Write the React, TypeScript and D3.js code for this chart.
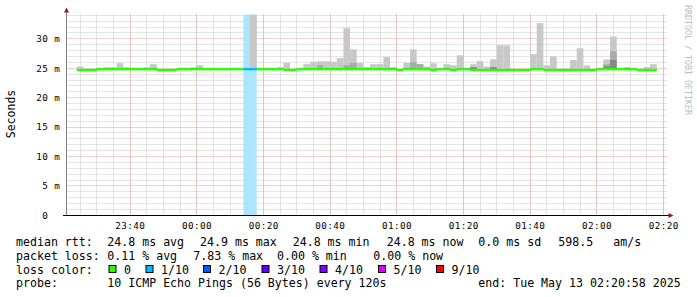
import React from 'react';
import * as d3 from 'd3';

const WIDTH = 697;
const HEIGHT = 297;

// time window of the graph
const startTime = new Date(Date.UTC(2025, 4, 12, 23, 20, 58));
const endTime = new Date(Date.UTC(2025, 4, 13, 2, 20, 58));
const firstBin = new Date(Date.UTC(2025, 4, 12, 23, 24, 0));
const stepMinutes = 2;

// median rtt (ms) per 2-minute step
const medianRtt = [
  24.7, 24.7, 24.7, 24.85, 24.85, 24.85, 24.85, 24.85, 24.85, 24.85,
  24.85, 24.85, 24.7, 24.7, 24.7, 24.85, 24.85, 24.85, 24.85, 24.85,
  24.85, 24.85, 24.85, 24.85, 24.85, 24.85, 24.85, 24.85, 24.85, 24.85,
  24.85, 24.7, 24.7, 24.85, 24.85, 24.85, 24.85, 24.85, 24.85, 24.85,
  24.85, 24.85, 24.85, 24.85, 24.85, 24.85, 24.85, 24.85, 24.7, 24.85,
  24.85, 24.85, 24.85, 24.7, 24.85, 24.85, 24.7, 24.85, 24.85, 24.7,
  24.7, 24.7, 24.7, 24.7, 24.7, 24.7, 24.7, 24.7, 24.85, 24.85,
  24.7, 24.7, 24.7, 24.7, 24.7, 24.7, 24.7, 24.7, 24.85, 24.85,
  24.85, 24.85, 24.85, 24.85, 24.7, 24.7, 24.7,
];

// lost pings (of 10) per step
const lossCount = [
  0, 0, 0, 0, 0, 0, 0, 0, 0, 0,
  0, 0, 0, 0, 0, 0, 0, 0, 0, 0,
  0, 0, 0, 0, 0, 1, 1, 0, 0, 0,
  0, 0, 0, 0, 0, 0, 0, 0, 0, 0,
  0, 0, 0, 0, 0, 0, 0, 0, 0, 0,
  0, 0, 0, 0, 0, 0, 0, 0, 0, 0,
  0, 0, 0, 0, 0, 0, 0, 0, 0, 0,
  0, 0, 0, 0, 0, 0, 0, 0, 0, 0,
  0, 0, 0, 0, 0, 0, 0,
];

// smoke: outer (max ping), middle and inner bands (ms), null = none
const smokeOuter = [
  25.3, null, null, null, 25.17, 25.17, 25.85, 25.17, null, null,
  25.17, 25.7, null, null, null, null, null, 25.17, 25.5, null,
  null, null, null, null, null, null, 34.5, null, null, null,
  25.17, 25.9, null, null, 25.7, 26.1, 26.2, 26.2, 26.1, 26.75,
  31.8, 28.2, 25.9, 25.2, 25.7, 25.7, 26.9, 25.2, null, 25.9,
  28.2, 25.7, 25.3, 25.85, null, 25.7, 25.5, 27.2, null, 25.7,
  26.2, 25.3, 26.5, 28.9, 28.9, null, null, null, 27.4, 32.65,
  25.5, 27.0, null, null, 26.4, 28.4, 25.5, null, null, 26.5,
  30.4, null, 25.2, null, null, 25.2, 25.7,
];
const smokeMid = [
  null, null, null, null, null, null, null, null, null, null,
  null, null, null, null, null, null, null, null, null, null,
  null, null, null, null, null, null, null, null, null, null,
  null, null, null, null, null, null, 25.5, null, null, null,
  25.5, 25.9, null, null, null, null, null, null, null, null,
  26.0, 25.7, null, null, null, null, null, null, null, null,
  null, null, null, null, null, null, null, null, null, null,
  null, null, null, null, null, null, null, null, null, 25.7,
  27.9, null, null, null, null, null, null,
];
const smokeInner = [
  null, null, null, null, null, null, null, null, null, null,
  null, null, null, null, null, null, null, null, null, null,
  null, null, null, null, null, null, null, null, null, null,
  null, null, null, null, null, null, null, null, null, null,
  null, null, null, null, null, null, null, null, null, null,
  null, null, null, null, null, null, null, null, null, 25.2,
  null, null, 25.2, null, null, null, null, null, null, null,
  null, null, null, null, null, null, null, null, null, 25.3,
  26.4, null, null, null, null, null, null,
];

const yMax = 34.12;
const yTicks = [0, 5, 10, 15, 20, 25, 30];
const yTickLabels = ['0', '5 m', '10 m', '15 m', '20 m', '25 m', '30 m'];

const lossLabels = ['0', '1/10', '2/10', '3/10', '4/10', '5/10', '9/10'];
const lossColors = ['#26ff00', '#00b8ff', '#0059ff', '#5e00ff', '#7e00ff', '#dd00ff', '#ff0000'];
const lossBackground = ['none', '#aae6fd'];

const legendLine1 = ['median rtt:', '24.8 ms avg', '24.9 ms max', '24.8 ms min', '24.8 ms now', '0.0 ms sd', '598.5', 'am/s'];
const legendLine2 = ['packet loss:', '0.11 % avg', '7.83 % max', '0.00 % min', '0.00 % now'];
const legendLine3Title = 'loss color:';
const legendLine4 = ['probe:', '10 ICMP Echo Pings (56 Bytes) every 120s', 'end: Tue May 13 02:20:58 2025'];

// layout (positions only)
const line1X = [16, 107.3, 200, 292.7, 386.7, 478.3, 558.3, 613.3];
const line2X = [16, 107.3, 193.3, 277, 373.3];
const squareX = [108.5, 145.5, 203, 261.5, 319.5, 378, 436];
const line4X = [16, 107.3, 478.3];
const baselines = [245.7, 259.6, 273.5, 287.3];

const MONO = '"DejaVu Sans Mono", "Liberation Mono", monospace';

export default function App() {
  const x = d3.scaleUtc().domain([startTime, endTime]).range([66.6, 666.6]);
  const y = d3.scaleLinear().domain([0, yMax]).range([215.3, 14.6]);
  const plotLeft = 66.5;
  const plotRight = 667;
  const yTop = y(yMax);
  const yBottom = y(0);

  const binStart = (i: number) => d3.utcMinute.offset(firstBin, i * stepMinutes);
  const binEnd = (i: number) => d3.utcMinute.offset(firstBin, (i + 1) * stepMinutes);
  const clampV = (v: number) => Math.min(v, yMax);

  const minorV = d3.utcMinute.every(5)!.range(startTime, endTime);
  const majorV = d3.utcMinute.every(20)!.range(startTime, endTime);
  const fmt = d3.utcFormat('%H:%M');
  const minorH = d3.range(1, Math.floor(yMax) + 1).filter((v) => v % 5 !== 0);
  const majorH = yTicks.filter((v) => v > 0);

  const snap = (v: number) => Math.round(v - 0.5) + 0.5;

  return (
    <svg
      width={WIDTH}
      height={HEIGHT}
      style={{ position: 'absolute', left: 0, top: 0, background: '#fff' }}
      fontFamily={MONO}
    >
      <rect x={0} y={0} width={WIDTH} height={HEIGHT} fill="#fff" />

      {/* minor grid */}
      {minorV.map((t, i) => (
        <line key={'mv' + i} x1={snap(x(t))} x2={snap(x(t))} y1={yTop} y2={yBottom}
          stroke="#c8c8c8" strokeWidth={1} strokeDasharray="1 1" />
      ))}
      {minorH.map((v) => (
        <line key={'mh' + v} x1={plotLeft} x2={plotRight} y1={snap(y(v))} y2={snap(y(v))}
          stroke="#c8c8c8" strokeWidth={1} strokeDasharray="1 1" />
      ))}
      {/* major grid */}
      {majorV.map((t, i) => (
        <line key={'Mv' + i} x1={snap(x(t))} x2={snap(x(t))} y1={yTop} y2={yBottom}
          stroke="#e4a0a0" strokeWidth={1} strokeDasharray="1 1" />
      ))}
      {majorH.map((v) => (
        <line key={'Mh' + v} x1={plotLeft} x2={plotRight} y1={snap(y(v))} y2={snap(y(v))}
          stroke="#e4a0a0" strokeWidth={1} strokeDasharray="1 1" />
      ))}

      {/* loss background */}
      {lossCount.map((l, i) =>
        l > 0 ? (
          <rect key={'lb' + i} x={x(binStart(i))} width={x(binEnd(i)) - x(binStart(i))}
            y={yTop} height={yBottom - yTop} fill={lossBackground[l]} />
        ) : null
      )}

      {/* smoke */}
      {smokeOuter.map((v, i) =>
        v != null ? (
          <rect key={'so' + i} x={x(binStart(i))} width={x(binEnd(i)) - x(binStart(i))}
            y={y(clampV(v))} height={y(medianRtt[i]) - y(clampV(v))} fill="#c8c8c8" />
        ) : null
      )}
      {smokeMid.map((v, i) =>
        v != null ? (
          <rect key={'sm' + i} x={x(binStart(i))} width={x(binEnd(i)) - x(binStart(i))}
            y={y(v)} height={y(medianRtt[i]) - y(v)} fill="#aaaaaa" />
        ) : null
      )}
      {smokeInner.map((v, i) =>
        v != null ? (
          <rect key={'si' + i} x={x(binStart(i))} width={x(binEnd(i)) - x(binStart(i))}
            y={y(v)} height={y(medianRtt[i]) - y(v)} fill="#878787" />
        ) : null
      )}

      {/* median line coloured by loss */}
      {medianRtt.map((m, i) => (
        <rect key={'md' + i} x={x(binStart(i))} width={x(binEnd(i)) - x(binStart(i)) + 0.3}
          y={y(m) - 1.2} height={2.4} fill={lossColors[lossCount[i]]} />
      ))}

      {/* axes */}
      <line x1={plotLeft} x2={plotLeft} y1={11} y2={216} stroke="#808080" strokeWidth={1} />
      <line x1={63} x2={670} y1={215.5} y2={215.5} stroke="#000" strokeWidth={1} />
      <path d="M64,12.5 L69,12.5 L66.5,7.5 Z" fill="#9a1a1a" />
      <path d="M668.5,213 L668.5,218 L673.5,215.5 Z" fill="#9a1a1a" />

      {/* y tick labels */}
      {yTicks.map((v, i) => (
        <text key={'yl' + v} x={v === 0 ? 48.2 : 60.2} y={y(v) + 3.4} fontSize={9.3}
          letterSpacing={0.4} textAnchor="end" fill="#000">{yTickLabels[i]}</text>
      ))}
      {/* x tick labels */}
      {majorV.map((t, i) => (
        <text key={'xl' + i} x={x(t) + 0.3} y={228.5} fontSize={9.3} letterSpacing={0.4}
          textAnchor="middle" fill="#000">{fmt(t)}</text>
      ))}

      {/* y axis title */}
      <text transform="translate(15,114) rotate(-90)" fontSize={11.5} textAnchor="middle" fill="#000">
        Seconds
      </text>

      {/* watermark */}
      <text transform="translate(684.5,5) rotate(90)" fontSize={8.3} fill="#bdbdbd" style={{ whiteSpace: 'pre' }}>
        RRDTOOL / TOBI OETIKER
      </text>

      {/* legend */}
      {legendLine1.map((s, i) => (
        <text key={'l1' + i} x={line1X[i]} y={baselines[0]} fontSize={11.6} fill="#000" style={{ whiteSpace: 'pre' }}>{s}</text>
      ))}
      {legendLine2.map((s, i) => (
        <text key={'l2' + i} x={line2X[i]} y={baselines[1]} fontSize={11.6} fill="#000" style={{ whiteSpace: 'pre' }}>{s}</text>
      ))}
      <text x={16} y={baselines[2]} fontSize={11.6} fill="#000">{legendLine3Title}</text>
      {lossLabels.map((s, i) => (
        <g key={'l3' + i}>
          <rect x={squareX[i] + 0.5} y={265.5} width={7} height={7} fill={lossColors[i]} stroke="#000" strokeWidth={1} />
          <text x={squareX[i] + 15.5} y={baselines[2]} fontSize={11.6} fill="#000">{s}</text>
        </g>
      ))}
      {legendLine4.map((s, i) => (
        <text key={'l4' + i} x={line4X[i]} y={baselines[3]} fontSize={11.6} fill="#000" style={{ whiteSpace: 'pre' }}>{s}</text>
      ))}
    </svg>
  );
}
